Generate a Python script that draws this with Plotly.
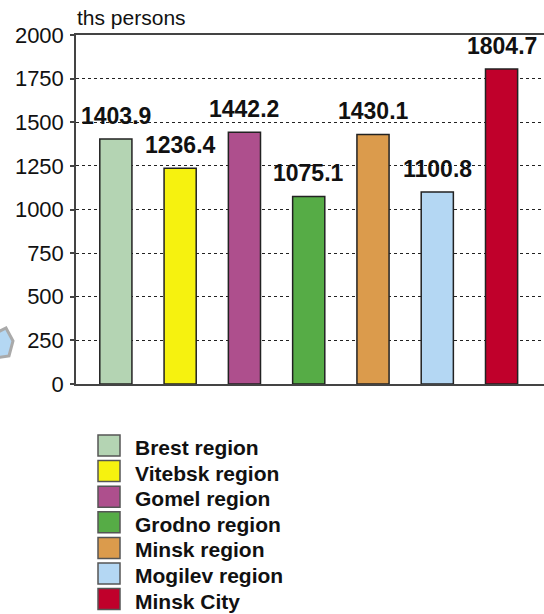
import plotly.graph_objects as go

# Population by region, thousand persons
regions = ["Brest region", "Vitebsk region", "Gomel region", "Grodno region",
           "Minsk region", "Mogilev region", "Minsk City"]
population = [1403.9, 1236.4, 1442.2, 1075.1, 1430.1, 1100.8, 1804.7]
colors = ["#b4d4b3", "#f6f20f", "#ae4f8d", "#56ac46", "#db9b4c", "#b4d7f3", "#c0002b"]
y_ticks = [0, 250, 500, 750, 1000, 1250, 1500, 1750, 2000]
unit_label = "ths persons"

W, H = 544, 614
L, R, T, B = 76, 0, 35, 230
PW, PH = W - L - R, H - T - B

FONT = "Arial, Liberation Sans, sans-serif"


def px_x(x):
    return (x - L) / PW


def px_y(y):
    return (H - B - y) / PH


xs = list(range(len(regions)))

fig = go.Figure()
fig.add_trace(go.Bar(
    x=xs,
    y=population,
    width=0.5,
    marker=dict(color=colors, line=dict(color="#222222", width=1.5)),
    showlegend=False,
    hoverinfo="skip",
))

annotations = []
# Value labels above each bar
for x, v in zip(xs, population):
    annotations.append(dict(
        text=f"<b>{v:.1f}</b>", x=x, y=v, xref="x", yref="y",
        xanchor="center", yanchor="bottom", yshift=8, showarrow=False,
        font=dict(family=FONT, size=23, color="#111111"),
    ))

# Legend: colour swatches with bold region names
shapes = []
row0, row_step = 445.5, 25.6
for i, (name, c) in enumerate(zip(regions, colors)):
    yc = row0 + i * row_step
    shapes.append(dict(
        type="rect", xref="paper", yref="paper",
        x0=px_x(98), x1=px_x(120), y0=px_y(yc - 10.5), y1=px_y(yc + 10.5),
        fillcolor=c, line=dict(color="#555555", width=1.5), layer="above",
    ))
    annotations.append(dict(
        text=f"<b>{name}</b>", xref="paper", yref="paper",
        x=px_x(133), y=px_y(yc + 2), xanchor="left", yanchor="middle",
        showarrow=False, font=dict(family=FONT, size=21, color="#111111"),
    ))

# Unit caption above the value axis
annotations.append(dict(
    text=unit_label, xref="paper", yref="paper",
    x=px_x(75), y=px_y(17), xanchor="left", yanchor="middle",
    showarrow=False, font=dict(family=FONT, size=21, color="#111111"),
))

# Small decorative pentagon at the left edge
pts = [(-6, 334), (6, 328), (13, 341), (9, 356), (-6, 358)]
path = "M " + " L ".join(f"{px_x(x):.5f},{px_y(y):.5f}" for x, y in pts) + " Z"
shapes.append(dict(
    type="path", xref="paper", yref="paper", path=path,
    fillcolor="#b4d7f3", line=dict(color="#aaaaaa", width=3),
))

fig.update_layout(
    width=W, height=H,
    margin=dict(l=L, r=R, t=T, b=B, pad=0),
    paper_bgcolor="white", plot_bgcolor="white",
    font=dict(family=FONT, color="#111111"),
    shapes=shapes,
    annotations=annotations,
    xaxis=dict(
        range=[-0.62, 6.66], showticklabels=False, showgrid=False,
        zeroline=False, showline=True, linecolor="#444444", linewidth=1.5,
        mirror=True, ticks="", fixedrange=True,
    ),
    yaxis=dict(
        range=[0, 2000], tickvals=y_ticks, ticktext=[str(v) for v in y_ticks],
        showgrid=True, gridcolor="#222222", griddash="dot", gridwidth=1,
        zeroline=False, showline=True, linecolor="#444444", linewidth=1.5,
        ticks="outside", ticklen=4, tickcolor="#444444", tickwidth=1.5,
        ticklabelstandoff=2,
        tickfont=dict(family=FONT, size=22, color="#111111"),
        fixedrange=True,
    ),
)

fig.write_html("out.html")
